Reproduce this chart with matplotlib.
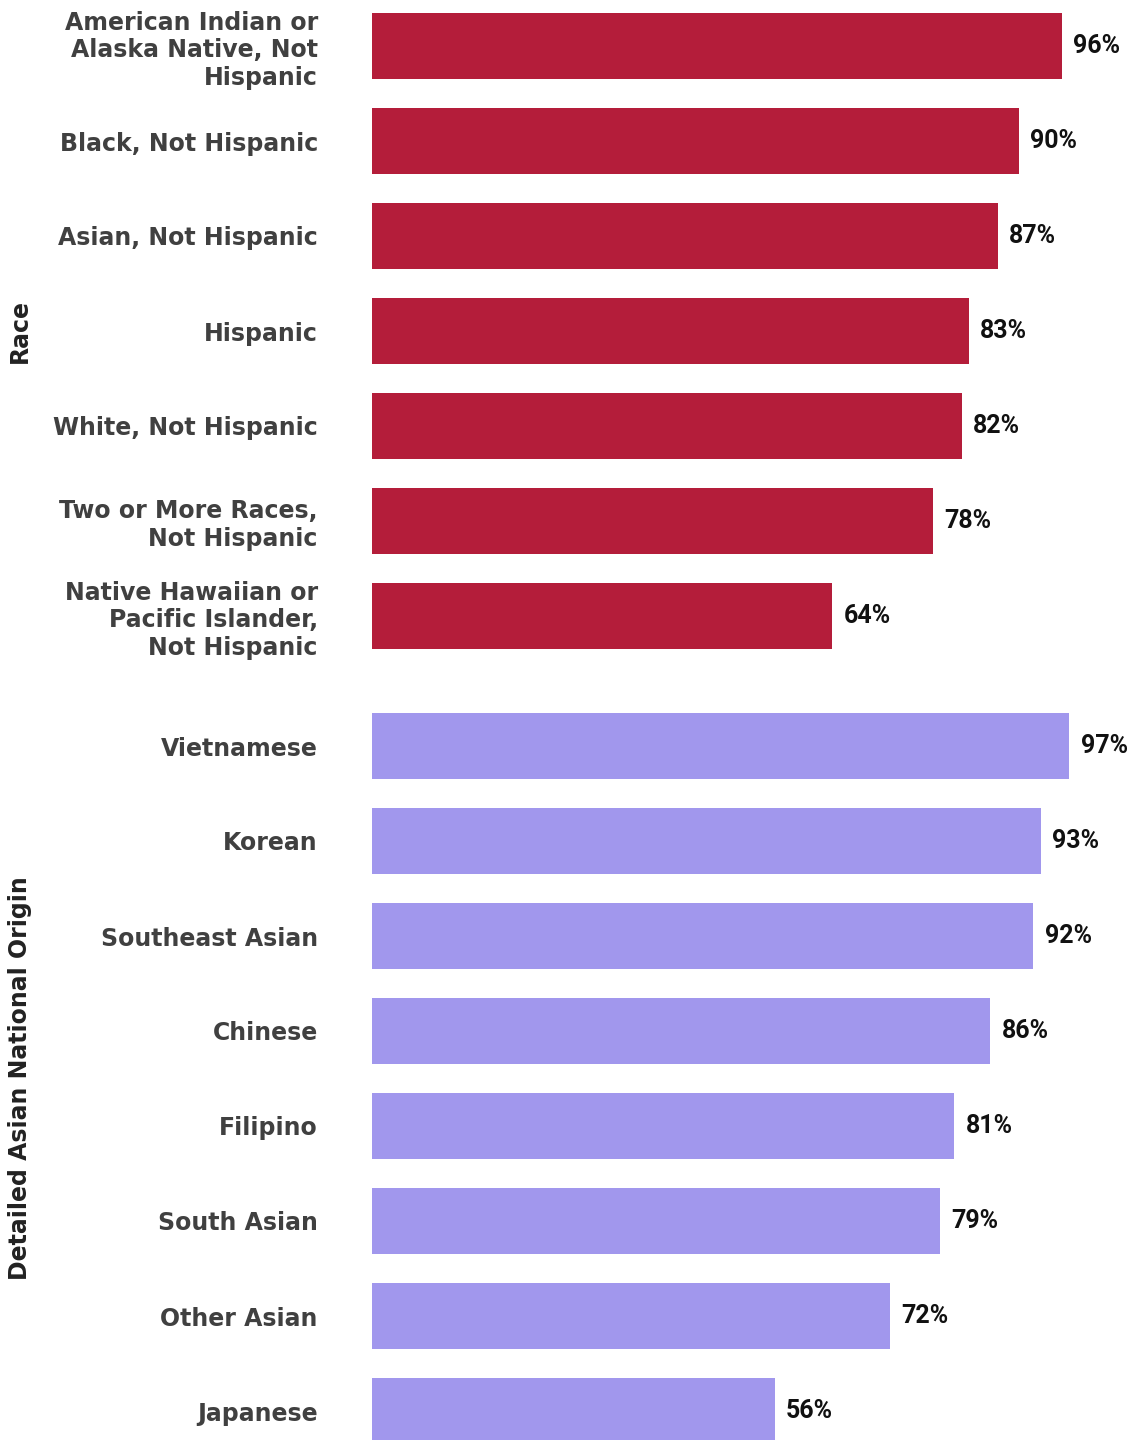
import matplotlib
matplotlib.use("Agg")
import matplotlib.pyplot as plt

race_labels = ["American Indian or\nAlaska Native, Not\nHispanic", "Black, Not Hispanic",
               "Asian, Not Hispanic", "Hispanic", "White, Not Hispanic",
               "Two or More Races,\nNot Hispanic", "Native Hawaiian or\nPacific Islander,\nNot Hispanic"]
race_values = [96, 90, 87, 83, 82, 78, 64]

asian_labels = ["Vietnamese", "Korean", "Southeast Asian", "Chinese", "Filipino",
                "South Asian", "Other Asian", "Japanese"]
asian_values = [97, 93, 92, 86, 81, 79, 72, 56]

RED = "#B41D3A"
PURPLE = "#A197ED"
W, H = 1137, 1440
X0 = 372
PX_PER_UNIT = 7.19
ROW = 95

fig = plt.figure(figsize=(W / 100, H / 100), dpi=100)


def panel(top_px, labels, values, color, title):
    n = len(labels)
    bottom_px = top_px + n * ROW
    ax = fig.add_axes([X0 / W, 1 - bottom_px / H, (W - X0) / W, n * ROW / H])
    y = list(range(n))
    bars = ax.barh(y, values, height=0.69, color=color)
    ax.set_ylim(n - 0.5, -0.5)
    ax.set_xlim(0, (W - X0) / PX_PER_UNIT)
    ax.set_yticks(y)
    ax.set_yticklabels(labels, fontsize=17, fontweight="bold", color="#404040",
                       linespacing=1.2, family="DejaVu Sans")
    ax.tick_params(axis="y", length=0, pad=39)
    ax.set_xticks([])
    for s in ax.spines.values():
        s.set_visible(False)
    ax.bar_label(bars, labels=[f"{v}%" for v in values], padding=8,
                 fontsize=18, fontweight="bold", color="#111111", family="Roboto")
    # group title, centred on the panel
    mid = (top_px + bottom_px) / 2
    fig.text(20 / W, 1 - mid / H, title, rotation=90, ha="center", va="center",
             fontsize=17, fontweight="bold", color="#222222")
    return ax


panel(-1.5, race_labels, race_values, RED, "Race")
panel(698.5, asian_labels, asian_values, PURPLE, "Detailed Asian National Origin")

fig.savefig("out.png", dpi=100)
